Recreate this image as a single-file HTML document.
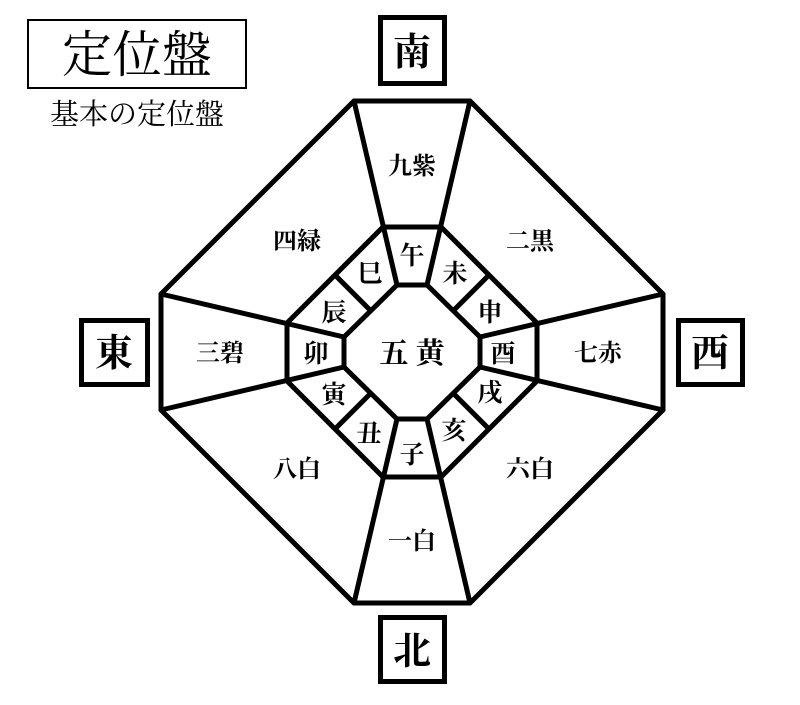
<!DOCTYPE html>
<html><head><meta charset="utf-8"><style>
body{margin:0;background:#fff;}
svg text{font-family:"Liberation Serif","Noto Serif CJK JP","Noto Serif CJK SC",serif;fill:#000;}
.b{font-weight:bold;}
</style></head><body>
<svg width="800" height="700" viewBox="0 0 800 700" xmlns="http://www.w3.org/2000/svg">
<rect x="28" y="20" width="218" height="68" fill="none" stroke="#000" stroke-width="2"/>
<text x="137" y="72" font-size="50" text-anchor="middle">定位盤</text>
<text x="137" y="124" font-size="29" text-anchor="middle">基本の定位盤</text>

<g fill="none" stroke="#000" stroke-width="5">
<rect x="380.5" y="17.5" width="64" height="66"/>
<rect x="380.5" y="617.5" width="64" height="64"/>
<rect x="81.5" y="320.5" width="66" height="64"/>
<rect x="678.5" y="320.5" width="64" height="64"/>
</g>
<g font-size="38" text-anchor="middle" class="b">
<text x="412" y="65">南</text>
<text x="412" y="664">北</text>
<text x="114" y="366">東</text>
<text x="710" y="366">西</text>
</g>

<g transform="translate(412,352)" fill="none" stroke="#000" stroke-width="5" stroke-linejoin="miter">
<polygon points="-58,-251 58,-251 251,-58 251,58 58,251 -58,251 -251,58 -251,-58"/>
<polygon points="-29,-125 29,-125 125,-29 125,29 29,125 -29,125 -125,29 -125,-29"/>
<polygon points="-15,-67 15,-67 68,-15 68,15 15,67 -15,67 -68,15 -68,-15"/>
<path d="M-15,-67L-58,-251M15,-67L58,-251M68,-15L251,-58M68,15L251,58M15,67L58,251M-15,67L-58,251M-68,15L-251,58M-68,-15L-251,-58"/>
<path d="M41,-41L77,-77M41,41L77,77M-41,41L-77,77M-41,-41L-77,-77"/>
</g>

<g font-size="24" text-anchor="middle" class="b">
<text x="412" y="174">九紫</text>
<text x="530" y="249">二黒</text>
<text x="598" y="361">七赤</text>
<text x="530" y="477">六白</text>
<text x="412" y="549">一白</text>
<text x="297" y="477">八白</text>
<text x="220" y="361">三碧</text>
<text x="297" y="249">四緑</text>
</g>
<g font-size="25" text-anchor="middle" class="b">
<text x="412" y="264">午</text>
<text x="455" y="282">未</text>
<text x="490" y="321">申</text>
<text x="503" y="362">酉</text>
<text x="490" y="401">戌</text>
<text x="454" y="439">亥</text>
<text x="412" y="463">子</text>
<text x="369" y="442">丑</text>
<text x="334" y="403">寅</text>
<text x="316" y="362">卯</text>
<text x="334" y="321">辰</text>
<text x="370" y="282">巳</text>
</g>
<text x="412" y="363" font-size="29" text-anchor="middle" class="b">五 黄</text>
</svg>
</body></html>
